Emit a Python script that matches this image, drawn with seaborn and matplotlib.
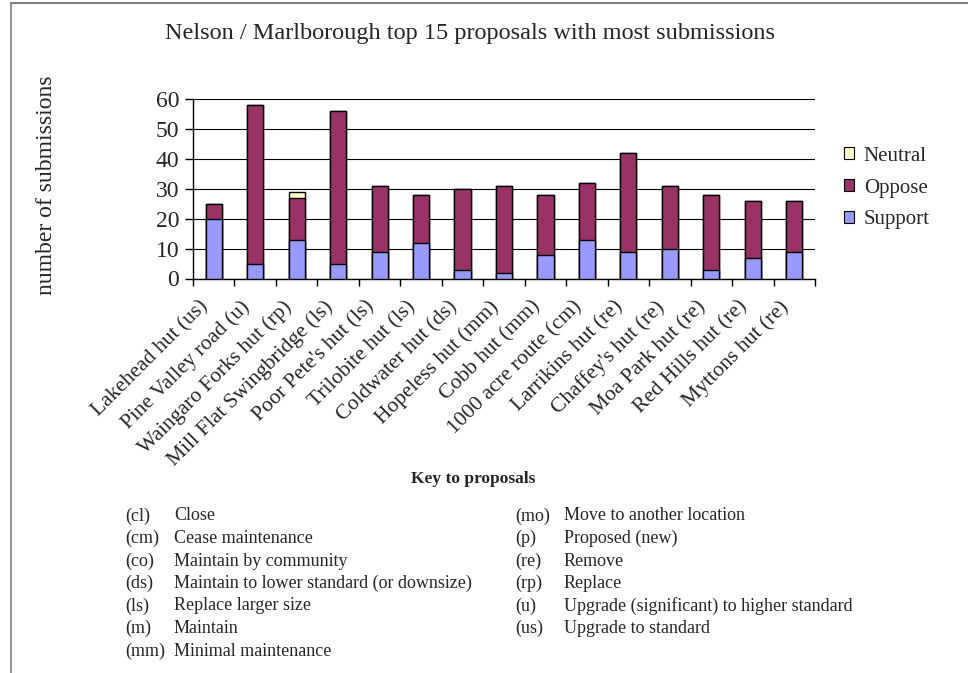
import matplotlib
matplotlib.use("Agg")
import matplotlib.pyplot as plt
from matplotlib.lines import Line2D
from matplotlib.patches import Patch
from matplotlib.transforms import ScaledTranslation
import seaborn as sns
import pandas as pd
import numpy as np

categories = ["Lakehead hut (us)", "Pine Valley road (u)", "Waingaro Forks hut (rp)",
              "Mill Flat Swingbridge (ls)", "Poor Pete's hut (ls)", "Trilobite hut (ls)",
              "Coldwater hut (ds)", "Hopeless hut (mm)", "Cobb hut (mm)",
              "1000 acre route (cm)", "Larrikins hut (re)", "Chaffey's hut (re)",
              "Moa Park hut (re)", "Red Hills hut (re)", "Myttons hut (re)"]
support = [20, 5, 13, 5, 9, 12, 3, 2, 8, 13, 9, 10, 3, 7, 9]
oppose = [5, 53, 14, 51, 22, 16, 27, 29, 20, 19, 33, 21, 25, 19, 17]
neutral = [0, 0, 2, 0, 0, 0, 0, 0, 0, 0, 0, 0, 0, 0, 0]

key_left_codes = ["(cl)", "(cm)", "(co)", "(ds)", "(ls)", "(m)", "(mm)"]
key_left_desc = ["Close", "Cease maintenance", "Maintain by community",
                 "Maintain to lower standard (or downsize)", "Replace larger size",
                 "Maintain", "Minimal maintenance"]
key_right_codes = ["(mo)", "(p)", "(re)", "(rp)", "(u)", "(us)"]
key_right_desc = ["Move to another location", "Proposed (new)", "Remove", "Replace",
                  "Upgrade (significant) to higher standard", "Upgrade to standard"]

title = "Nelson / Marlborough top 15 proposals with most submissions"
ylabel = "number of submissions"

c_support = "#9999FF"
c_oppose = "#993366"
c_neutral = "#FFFFCC"

sns.set_style("white")
plt.rcParams["font.family"] = ["Liberation Serif", "DejaVu Serif"]

W, H = 968, 673
fig = plt.figure(figsize=(W / 100, H / 100), dpi=100)
ax = fig.add_axes([193 / W, 1 - 278.5 / H, (815 - 193) / W, (278.5 - 99) / H])

df = pd.DataFrame({"cat": categories, "support": support, "oppose": oppose, "neutral": neutral})
df["so"] = df["support"] + df["oppose"]
df["total"] = df["so"] + df["neutral"]

common = dict(x="cat", order=categories, width=0.39, edgecolor="black", linewidth=1.0,
              ax=ax, zorder=3)
sns.barplot(data=df, y="total", color=c_neutral, saturation=1, **common)
sns.barplot(data=df, y="so", color=c_oppose, saturation=1, **common)
sns.barplot(data=df, y="support", color=c_support, saturation=1, **common)

ax.set_xlim(-0.5, len(categories) - 0.5)
ax.set_ylim(0, 60)
ax.set_yticks(range(0, 61, 10))
ax.yaxis.grid(True, color="black", linewidth=0.8, zorder=0)
ax.xaxis.grid(False)
ax.set_axisbelow(True)
for s in ["top", "right"]:
    ax.spines[s].set_visible(False)
for s in ["left", "bottom"]:
    ax.spines[s].set_color("black")
    ax.spines[s].set_linewidth(1.0)

ax.set_xlabel("")
ax.set_ylabel("")
ax.set_xticks(range(len(categories)))
ax.set_xticklabels(categories, rotation=45, ha="right", rotation_mode="anchor", fontsize=15.5)
ax.set_xticks(np.arange(-0.5, len(categories)), minor=True)
ax.tick_params(axis="x", which="major", length=0, pad=9)
ax.tick_params(axis="x", which="minor", length=5, width=1, color="black", direction="out", bottom=True)
ax.tick_params(axis="y", which="major", length=6, width=1, color="black", direction="out",
               left=True, labelsize=17, pad=4)
shift = ScaledTranslation(-15 / 100, -6 / 100, fig.dpi_scale_trans)
for lab in ax.get_xticklabels():
    lab.set_transform(lab.get_transform() + shift)

fig.text(470 / W, 1 - 33 / H, title, ha="center", va="center", fontsize=17.5)
fig.text(47 / W, 1 - 185 / H, ylabel, ha="center", va="center", rotation=90, fontsize=17)

handles = [Patch(facecolor=c_neutral, edgecolor="black", linewidth=0.8, label="Neutral"),
           Patch(facecolor=c_oppose, edgecolor="black", linewidth=0.8, label="Oppose"),
           Patch(facecolor=c_support, edgecolor="black", linewidth=0.8, label="Support")]
fig.legend(handles=handles, loc="center left", bbox_to_anchor=(844 / W, 1 - 188 / H),
           frameon=False, fontsize=15, handlelength=0.5, handleheight=0.5,
           handletextpad=0.45, labelspacing=0.62, borderpad=0, borderaxespad=0)

fig.text(473 / W, 1 - 479 / H, "Key to proposals", ha="center", va="center",
         fontsize=12.5, fontweight="bold")
for i, (c, d) in enumerate(zip(key_left_codes, key_left_desc)):
    y = 1 - (516 + 22.5 * i) / H
    fig.text(125 / W, y, c, ha="left", va="center", fontsize=13)
    fig.text(174 / W, y, d, ha="left", va="center", fontsize=13)
for i, (c, d) in enumerate(zip(key_right_codes, key_right_desc)):
    y = 1 - (516 + 22.5 * i) / H
    fig.text(515 / W, y, c, ha="left", va="center", fontsize=13)
    fig.text(564 / W, y, d, ha="left", va="center", fontsize=13)

fig.add_artist(Line2D([11 / W, 1], [1 - 3 / H, 1 - 3 / H], color="#808080", linewidth=1.5))
fig.add_artist(Line2D([11 / W, 11 / W], [0, 1 - 3 / H], color="#808080", linewidth=1.2))

fig.savefig("out.png", dpi=100, facecolor="white")
